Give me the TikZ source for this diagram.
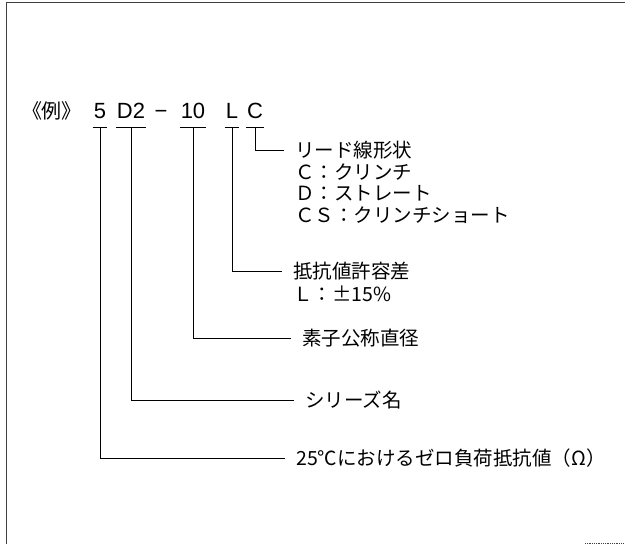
\documentclass[tikz,border=0pt]{standalone}
\usepackage{fontspec}
\setmainfont{Noto Sans CJK JP}
\newfontfamily\latinfont{Liberation Sans}
\usetikzlibrary{positioning}
\tikzstyle{frame} = [line width=0.8pt, black!75]
\tikzstyle{code} = [inner sep=1pt, anchor=base, font=\latinfont\fontsize{22}{26}\selectfont]
\tikzstyle{desc} = [inner xsep=11pt, inner ysep=0pt, anchor=west, font=\fontsize{19.5}{22}\selectfont]
\tikzstyle{lead} = [line width=0.8pt]

\begin{document}
\begin{tikzpicture}[x=1pt, y=-1pt]
				\useasboundingbox (0,0) rectangle (625,544);

				% frame
				\draw [frame] (6,544) -- (6,2) -- (625,2);
				\draw [frame, densely dotted] (585,543) -- (625,543);

				% the example code
				\node (Ex) [code, font=\fontsize{20}{24}\selectfont] at (52,118) {《例》};
				\node (N5) [code] at (100,118) {5};
				\node (ND2) [code] at (131,118) {D2};
				\node (NDash) [code] at (161,118) {−};
				\node (N10) [code] at (193,118) {10};
				\node (NL) [code] at (232,118) {L};
				\node (NC) [code] at (255,118) {C};

				\draw [lead] ([yshift=-9pt]N5.base west) -- ([yshift=-9pt]N5.base east);
				\draw [lead] ([yshift=-9pt]ND2.base west) -- ([yshift=-9pt]ND2.base east);
				\draw [lead] ([yshift=-9pt]N10.base west) -- ([yshift=-9pt]N10.base east);
				\draw [lead] ([yshift=-9pt]NL.base west) -- ([yshift=-9pt]NL.base east);
				\draw [lead] ([yshift=-9pt]NC.base west) -- ([yshift=-9pt]NC.base east);

				% lead shape
				\node (Lead) [desc] at (284,150) {リード線形状};
				\node (LeadC) [desc] at (284,172) {Ｃ：クリンチ};
				\node (LeadD) [desc] at (284,193) {Ｄ：ストレート};
				\node (LeadCS) [desc] at (284,215) {ＣＳ：クリンチショート};
				\draw [lead] ([yshift=-9pt]NC.base) |- (Lead.west);

				% tolerance
				\node (Tol) [desc] at (282,271) {抵抗値許容差};
				\node (TolL) [desc] at (282,294) {Ｌ：±15\%};
				\draw [lead] ([yshift=-9pt]NL.base) |- (Tol.west);

				% diameter
				\node (Dia) [desc] at (291,338) {素子公称直径};
				\draw [lead] ([yshift=-9pt]N10.base) |- (Dia.west);

				% series
				\node (Ser) [desc] at (294,400) {シリーズ名};
				\draw [lead] ([yshift=-9pt]ND2.base) |- (Ser.west);

				% resistance
				\node (Res) [desc] at (285,458) {25℃におけるゼロ負荷抵抗値（Ω）};
				\draw [lead] ([yshift=-9pt]N5.base) |- (Res.west);
			\end{tikzpicture}
\end{document}
